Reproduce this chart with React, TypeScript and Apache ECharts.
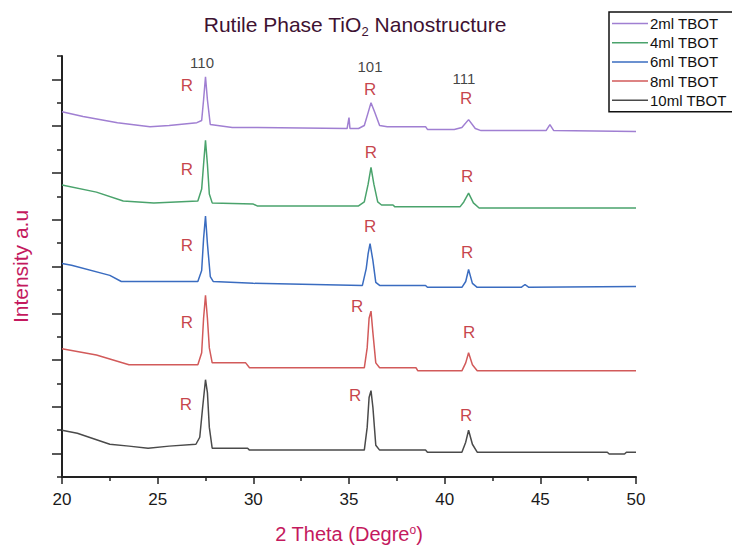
import React, { useEffect, useRef } from "react";
import * as echarts from "echarts";

// 2θ (degrees) vs. offset intensity (a.u.)
const seriesNames = ["2ml TBOT", "4ml TBOT", "6ml TBOT", "8ml TBOT", "10ml TBOT"];
const seriesColors = ["#a07fd2", "#4aa36c", "#3a6cc0", "#d25a5a", "#4a4a4a"];

const ml2: [number, number][] = [
  [20.0, 1562], [21.1, 1541], [22.9, 1515], [24.6, 1498], [25.6, 1503], [27.05, 1515],
  [27.3, 1524], [27.4, 1613], [27.5, 1711], [27.6, 1613], [27.75, 1507], [28.9, 1494],
  [30.2, 1494], [34.9, 1490], [35.0, 1537], [35.05, 1490], [35.5, 1490], [35.8, 1503],
  [36.0, 1558], [36.15, 1600], [36.35, 1558], [36.6, 1503], [37.0, 1498], [39.0, 1498],
  [39.1, 1486], [40.5, 1486], [40.9, 1494], [41.25, 1528], [41.6, 1490], [41.9, 1481],
  [45.3, 1481], [45.5, 1507], [45.7, 1481], [50.0, 1477],
];
const ml4: [number, number][] = [
  [20.0, 1248], [21.8, 1218], [23.2, 1180], [24.8, 1172], [27.1, 1180], [27.3, 1231],
  [27.4, 1337], [27.5, 1439], [27.6, 1337], [27.7, 1210], [27.85, 1172], [30.0, 1167],
  [30.2, 1159], [35.5, 1159], [35.8, 1176], [36.0, 1252], [36.15, 1324], [36.3, 1252],
  [36.5, 1176], [36.7, 1163], [37.3, 1163], [37.4, 1155], [40.8, 1155], [41.0, 1176],
  [41.25, 1214], [41.5, 1172], [41.8, 1150], [50.0, 1150],
];
const ml6: [number, number][] = [
  [20.0, 913], [20.5, 905], [22.5, 862], [23.1, 836], [27.1, 836], [27.3, 883],
  [27.4, 1019], [27.5, 1116], [27.6, 998], [27.75, 857], [27.9, 836], [30.0, 828],
  [35.7, 819], [35.9, 891], [36.0, 955], [36.1, 998], [36.25, 925], [36.4, 832],
  [36.6, 819], [39.0, 819], [39.1, 811], [40.9, 811], [41.1, 836], [41.25, 887],
  [41.45, 828], [41.7, 811], [44.0, 811], [44.2, 823], [44.4, 811], [50.0, 815],
];
const ml8: [number, number][] = [
  [20.0, 548], [21.8, 522], [23.5, 480], [27.1, 480], [27.3, 531], [27.4, 679],
  [27.5, 777], [27.6, 679], [27.7, 552], [27.85, 488], [29.6, 488], [29.8, 467],
  [35.8, 467], [35.95, 552], [36.05, 679], [36.15, 709], [36.25, 616], [36.4, 488],
  [36.6, 467], [38.5, 467], [38.6, 454], [40.9, 454], [41.1, 488], [41.25, 531],
  [41.45, 480], [41.7, 454], [50.0, 454],
];
const ml10: [number, number][] = [
  [20.0, 200], [20.8, 187], [22.5, 140], [23.5, 132], [24.5, 123], [25.6, 132],
  [27.0, 140], [27.2, 170], [27.35, 297], [27.5, 416], [27.6, 361], [27.7, 212],
  [27.85, 123], [29.7, 123], [29.8, 115], [35.8, 115], [35.95, 212], [36.05, 340],
  [36.15, 369], [36.25, 297], [36.4, 136], [36.6, 115], [39.0, 115], [39.1, 106],
  [40.9, 106], [41.1, 149], [41.25, 200], [41.45, 140], [41.7, 106], [48.5, 106],
  [48.6, 98], [49.4, 98], [49.5, 106], [50.0, 106],
];
const seriesData = [ml2, ml4, ml6, ml8, ml10];

// "R" (rutile) markers
const rMarks: [number, number][] = [
  [26.53, 1673], [36.1, 1656], [41.12, 1617],
  [26.53, 1316], [36.15, 1388], [41.17, 1286],
  [26.53, 989], [36.1, 1070], [41.17, 959],
  [26.53, 662], [35.42, 730], [41.28, 616],
  [26.48, 310], [35.32, 348], [41.12, 263],
];
// Miller indices
const millerLabels = ["110", "101", "111"];
const millerPos: [number, number][] = [[27.32, 1774], [36.1, 1757], [41.01, 1702]];

const FONT = "'Liberation Sans', Arial, Helvetica, sans-serif";

export default function App() {
  const ref = useRef<HTMLDivElement>(null);
  useEffect(() => {
    if (!ref.current) return;
    const chart = echarts.init(ref.current, undefined, { renderer: "svg" });
    const lineSeries = seriesNames.map((name, i) => ({
      name,
      type: "line",
      data: seriesData[i],
      symbol: "none",
      lineStyle: { color: seriesColors[i], width: 1.5 },
      itemStyle: { color: seriesColors[i] },
      silent: true,
      z: 2,
    }));
    chart.setOption({
      animation: false,
      backgroundColor: "#ffffff",
      textStyle: { fontFamily: FONT },
      grid: { left: 62, top: 56, right: 96, bottom: 68 },
      graphic: [
        {
          type: "text",
          x: 355,
          y: 24,
          style: {
            text: "Rutile Phase TiO{sub|2} Nanostructure",
            font: `21px ${FONT}`,
            fill: "#3e1232",
            textAlign: "center",
            textVerticalAlign: "middle",
            lineHeight: 28,
            rich: {
              sub: { fontSize: 13, verticalAlign: "bottom", lineHeight: 28, fill: "#3e1232", fontFamily: FONT },
            },
          },
        },
      ],
      legend: {
        data: seriesNames,
        orient: "vertical",
        left: 609,
        top: 12,
        padding: [4, 30, 4, 3],
        itemGap: 4.2,
        itemWidth: 36,
        itemHeight: 1.5,
        icon: "rect",
        borderColor: "#111",
        borderWidth: 1.5,
        borderRadius: 0,
        textStyle: { fontSize: 15, lineHeight: 15, color: "#111", fontFamily: FONT, padding: [0, 0, 0, -3] },
      },
      xAxis: {
        type: "value",
        min: 20,
        max: 50,
        interval: 5,
        name: "2 Theta (Degre{sup|o})",
        nameLocation: "middle",
        nameGap: 47,
        nameTextStyle: {
          fontSize: 20,
          color: "#c4195e",
          fontFamily: FONT,
          rich: { sup: { fontSize: 12, verticalAlign: "top", color: "#c4195e", lineHeight: 20, fontFamily: FONT } },
        },
        axisLine: { lineStyle: { color: "#222", width: 2 } },
        axisTick: { length: 7, lineStyle: { color: "#222", width: 1.5 } },
        minorTick: { show: true, splitNumber: 2, length: 4, lineStyle: { color: "#222", width: 1.5 } },
        axisLabel: { fontSize: 17, color: "#1a1a1a", margin: 14, fontFamily: FONT },
        splitLine: { show: false },
      },
      yAxis: {
        type: "value",
        min: 0,
        max: 1800,
        interval: 200,
        name: "Intensity a.u",
        nameLocation: "middle",
        nameGap: 31,
        nameTextStyle: { fontSize: 21, color: "#c4195e", fontFamily: FONT },
        axisLine: { lineStyle: { color: "#222", width: 2 } },
        axisTick: { length: 5, lineStyle: { color: "#222", width: 1.5 } },
        minorTick: { show: true, splitNumber: 2, length: 10, lineStyle: { color: "#222", width: 1.5 } },
        axisLabel: { show: false },
        splitLine: { show: false },
      },
      series: [
        ...lineSeries,
        {
          type: "scatter",
          data: rMarks,
          symbolSize: 1,
          itemStyle: { color: "rgba(0,0,0,0)" },
          silent: true,
          z: 5,
          label: {
            show: true,
            position: "inside",
            formatter: "R",
            fontSize: 17,
            color: "#b8121b",
            fontFamily: FONT,
          },
        },
        {
          type: "scatter",
          data: millerPos.map((p, i) => ({ value: p, name: millerLabels[i] })),
          symbolSize: 1,
          itemStyle: { color: "rgba(0,0,0,0)" },
          silent: true,
          z: 5,
          label: {
            show: true,
            position: "inside",
            formatter: (p: any) => p.name,
            fontSize: 15,
            color: "#111",
            fontFamily: FONT,
          },
        },
      ],
    });
    return () => chart.dispose();
  }, []);
  return (
    <div
      ref={ref}
      style={{ position: "absolute", left: 0, top: 0, width: 732, height: 549 }}
    />
  );
}
